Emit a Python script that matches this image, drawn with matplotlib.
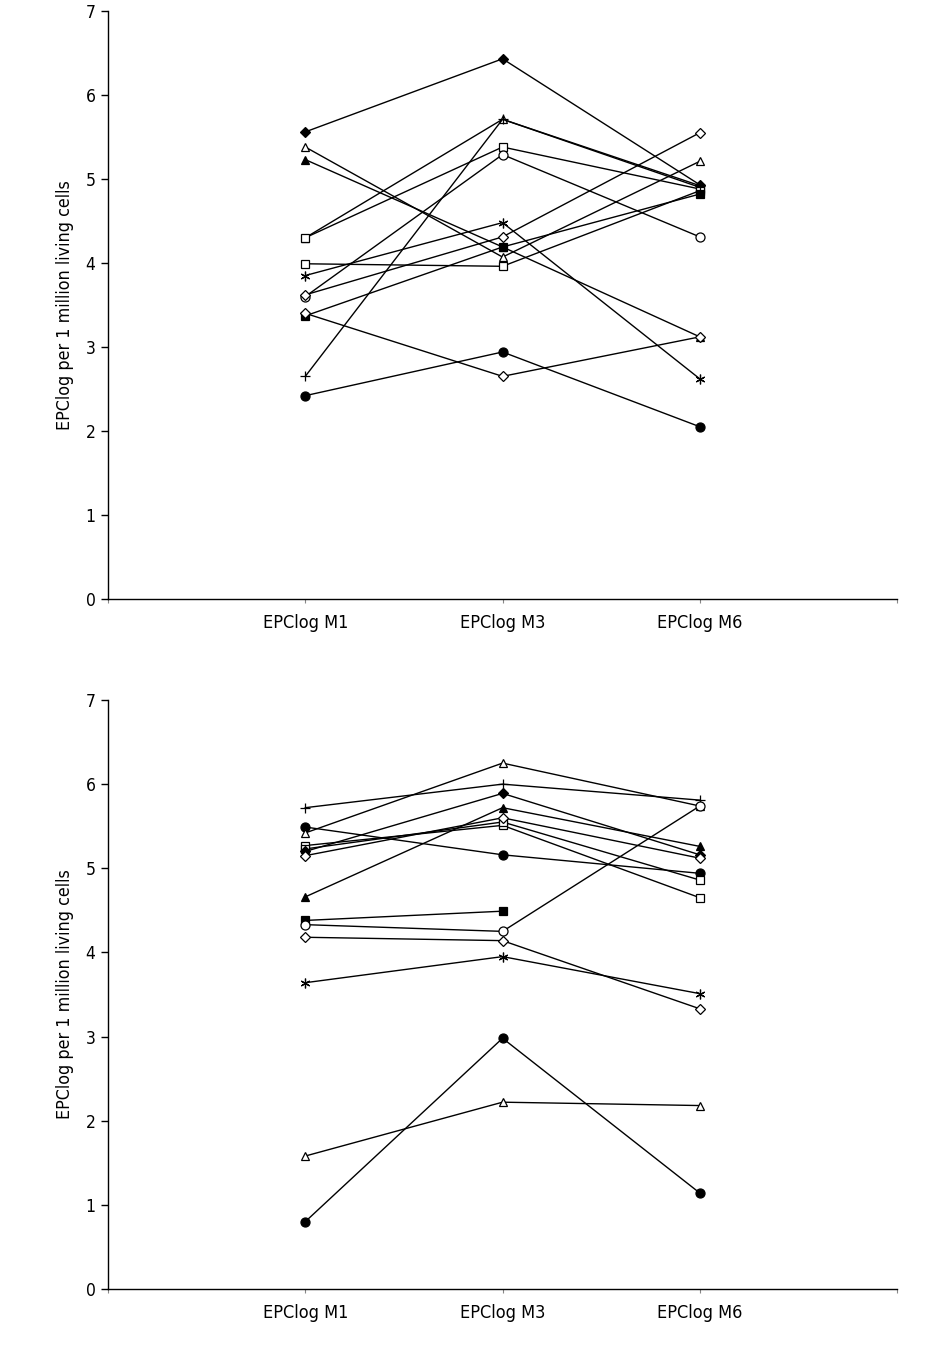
import numpy as np
import matplotlib
matplotlib.use('Agg')
import matplotlib.pyplot as plt

plt.rcParams['font.family'] = ['DejaVu Sans']
plt.rcParams['font.stretch'] = 'condensed'

categories = ['EPClog M1', 'EPClog M3', 'EPClog M6']
y_label = 'EPClog per 1 million living cells'

# top panel, one list per patient (M1, M3, M6)
top_filled_diamond = [5.56, 6.43, 4.93]
top_open_triangle = [5.38, 4.07, 5.21]
top_filled_triangle = [5.23, 4.19, 3.12]
top_open_triangle_b = [4.30, 5.71, 4.90]
top_open_square_b = [4.30, 5.38, 4.88]
top_open_square = [3.99, 3.96, 4.86]
top_asterisk = [3.85, 4.48, 2.62]
top_open_circle = [3.60, 5.29, 4.31]
top_open_diamond = [3.62, 4.31, 5.55]
top_filled_square = [3.37, 4.19, 4.82]
top_open_diamond_b = [3.40, 2.65, 3.12]
top_plus = [2.65, 5.71, 4.92]
top_filled_circle = [2.42, 2.94, 2.05]

# bottom panel
bot_plus = [5.72, 6.00, 5.81]
bot_filled_circle = [5.49, 5.16, 4.94]
bot_open_triangle = [5.42, 6.25, 5.74]
bot_open_square = [5.27, 5.51, 4.65]
bot_open_square_b = [5.23, 5.55, 4.86]
bot_filled_diamond = [5.20, 5.89, 5.16]
bot_open_diamond = [5.15, 5.60, 5.12]
bot_filled_triangle = [4.66, 5.72, 5.26]
bot_filled_square = [4.38, 4.49, np.nan]
bot_open_circle = [4.33, 4.25, 5.74]
bot_open_diamond_b = [4.18, 4.14, 3.33]
bot_asterisk = [3.64, 3.95, 3.51]
bot_open_triangle_b = [1.58, 2.22, 2.18]
bot_filled_circle_b = [0.80, 2.98, 1.14]

asterisk = (6, 2, 0)

top_series = [
    (top_filled_diamond, 'D', 'black', 5),
    (top_open_triangle, '^', 'white', 6),
    (top_filled_triangle, '^', 'black', 6),
    (top_open_triangle_b, '^', 'white', 6),
    (top_open_square_b, 's', 'white', 6),
    (top_open_square, 's', 'white', 6),
    (top_asterisk, asterisk, 'black', 7),
    (top_open_circle, 'o', 'white', 6.5),
    (top_open_diamond, 'D', 'white', 5),
    (top_filled_square, 's', 'black', 5.5),
    (top_open_diamond_b, 'D', 'white', 5),
    (top_plus, '+', 'black', 7),
    (top_filled_circle, 'o', 'black', 6.5),
]

bot_series = [
    (bot_plus, '+', 'black', 7),
    (bot_filled_circle, 'o', 'black', 6.5),
    (bot_open_triangle, '^', 'white', 6),
    (bot_open_square, 's', 'white', 6),
    (bot_open_square_b, 's', 'white', 6),
    (bot_filled_diamond, 'D', 'black', 5),
    (bot_open_diamond, 'D', 'white', 5),
    (bot_filled_triangle, '^', 'black', 6),
    (bot_filled_square, 's', 'black', 5.5),
    (bot_open_circle, 'o', 'white', 6.5),
    (bot_open_diamond_b, 'D', 'white', 5),
    (bot_asterisk, asterisk, 'black', 7),
    (bot_open_triangle_b, '^', 'white', 6),
    (bot_filled_circle_b, 'o', 'black', 6.5),
]

fig = plt.figure(figsize=(9.51, 13.49), dpi=100)
ax_top = fig.add_axes([0.1136, 0.5560, 0.8297, 0.4359])
ax_bot = fig.add_axes([0.1136, 0.0445, 0.8297, 0.4366])

x = np.arange(1, len(categories) + 1)

for ax, series in [(ax_top, top_series), (ax_bot, bot_series)]:
    for vals, mk, face, ms in series:
        ax.plot(x, vals, color='black', linewidth=1.0, marker=mk,
                markersize=ms, markerfacecolor=face,
                markeredgecolor='black', markeredgewidth=0.9)
    ax.set_xlim(0, 4)
    ax.set_ylim(0, 7)
    ax.set_yticks(range(0, 8))
    ax.set_xticks(range(0, 5))
    ax.set_xticklabels([''] + categories + [''])
    ax.spines['top'].set_visible(False)
    ax.spines['right'].set_visible(False)
    ax.spines['left'].set_linewidth(1.0)
    ax.spines['bottom'].set_linewidth(1.0)
    ax.tick_params(axis='y', direction='out', length=5, width=1.0,
                   labelsize=12.5, pad=4)
    ax.tick_params(axis='x', direction='out', length=3, width=0.8,
                   color='#888888', labelsize=13, pad=8)
    ax.set_ylabel(y_label, fontsize=12.8, labelpad=8)

fig.savefig('out.png', dpi=100)
